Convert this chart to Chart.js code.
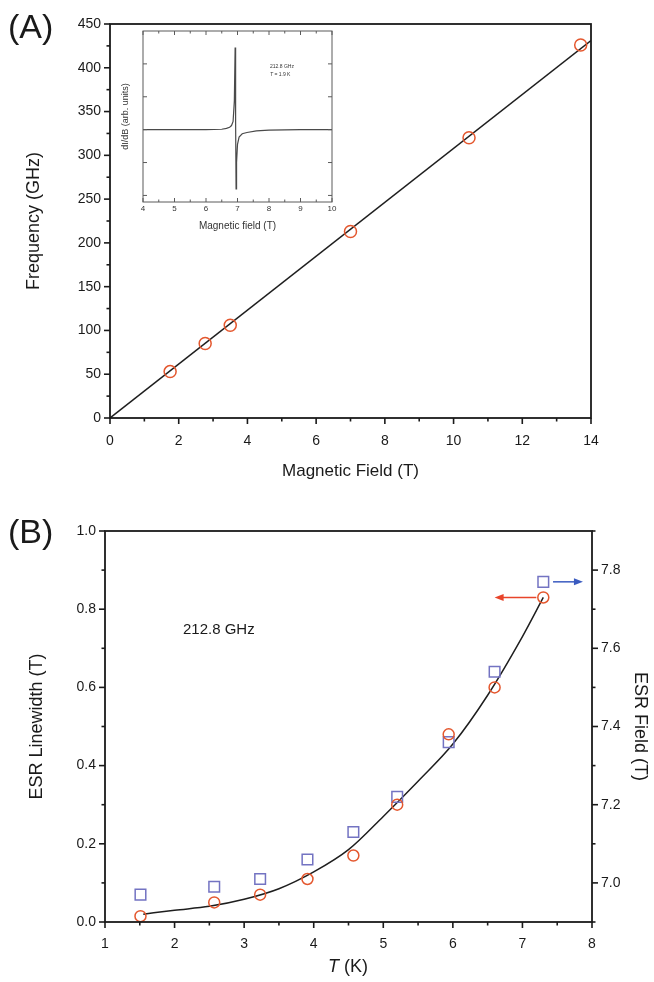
<!DOCTYPE html>
<html>
<head>
<meta charset="utf-8">
<title>ESR frequency and linewidth</title>
<script src="https://cdn.jsdelivr.net/npm/chart.js@4.4.0/dist/chart.umd.min.js"></script>
<style>
  html, body { margin: 0; padding: 0; background: #fff; }
  #page { position: relative; width: 654px; height: 982px; overflow: hidden;
          font-family: "Liberation Sans", Arial, sans-serif; color: #1a1a1a; }
  canvas { position: absolute; }
  .lbl { position: absolute; white-space: nowrap; line-height: 1; }
</style>
</head>
<body>
<div id="page">
  <canvas id="chartA" width="654" height="490" style="left:0px;top:0px"></canvas>
  <canvas id="inset" width="250" height="220" style="left:100px;top:20px"></canvas>
  <canvas id="chartB" width="654" height="492" style="left:0px;top:490px"></canvas>

  <div class="lbl" style="left:8px;top:9px;font-size:34px">(A)</div>
  <div class="lbl" style="left:8px;top:514px;font-size:34px">(B)</div>
  <div class="lbl" style="left:270px;top:64px;font-size:5px;color:#333">212.8 GHz</div>
  <div class="lbl" style="left:270px;top:72px;font-size:5px;color:#333"><i>T</i> = 1.9 K</div>
  <div class="lbl" style="left:183px;top:621px;font-size:15px">212.8 GHz</div>
  <div class="lbl" style="left:248px;top:957px;width:200px;text-align:center;font-size:18px"><i>T</i> (K)</div>
</div>

<script>
// (A) resonance frequency against magnetic field
var resField = [1.75, 2.77, 3.5, 7.0, 10.45, 13.7];
var resFreq = [53, 85, 106, 213, 320, 426];
var fitField = [0, 14];
var fitFreq = [0, 431];
var fieldLabelsA = [0, 2, 4, 6, 8, 10, 12, 14];
var freqLabels = [0, 50, 100, 150, 200, 250, 300, 350, 400, 450];

// inset: derivative spectrum, 212.8 GHz at 1.9 K
var specField = [4, 5, 6, 6.5, 6.65, 6.75, 6.81, 6.86, 6.9, 6.925, 6.94, 6.955, 6.97, 7.0, 7.05, 7.15, 7.3, 7.6, 8, 9, 10];
var specSignal = [0, 0, 0, 0.005, 0.015, 0.03, 0.05, 0.1, 0.35, 1.0, 0.1, -0.72, -0.4, -0.18, -0.09, -0.05, -0.035, -0.015, -0.005, 0, 0];
var specFieldLabels = [4, 5, 6, 7, 8, 9, 10];

// (B) linewidth and resonance field against temperature
var tempK = [1.51, 2.57, 3.23, 3.91, 4.57, 5.2, 5.94, 6.6, 7.3];
var linewidth = [0.015, 0.05, 0.07, 0.11, 0.17, 0.30, 0.48, 0.60, 0.83];
var esrField = [6.97, 6.99, 7.01, 7.06, 7.13, 7.22, 7.36, 7.54, 7.77];
var curveT = [1.55, 2, 2.5, 3, 3.5, 4, 4.5, 5, 5.5, 6, 6.5, 7, 7.3];
var curveWidth = [0.02, 0.03, 0.04, 0.058, 0.085, 0.128, 0.185, 0.27, 0.36, 0.455, 0.58, 0.73, 0.83];
var tempLabels = [1, 2, 3, 4, 5, 6, 7, 8];
var widthLabels = [0, 0.2, 0.4, 0.6, 0.8, 1.0];
var fieldLabelsB = [7.0, 7.2, 7.4, 7.6, 7.8];

Chart.defaults.font.family = '"Liberation Sans", Arial, sans-serif';
Chart.defaults.color = '#1a1a1a';

function near(list, v) {
  return list.some(function (t) { return Math.abs(t - v) < 1e-6; });
}
function pts(xs, ys) {
  return xs.map(function (x, i) { return { x: x, y: ys[i] }; });
}

// box around the plot area plus major/minor tick marks
function frame(cfg) {
  return {
    id: 'frame',
    afterDraw: function (chart) {
      var ctx = chart.ctx, a = chart.chartArea;
      ctx.save();
      ctx.strokeStyle = cfg.color;
      ctx.lineWidth = cfg.width;
      ctx.strokeRect(a.left, a.top, a.right - a.left, a.bottom - a.top);
      ctx.lineWidth = cfg.tickWidth;
      cfg.sides.forEach(function (side) {
        var scale = chart.scales[side.scale];
        scale.ticks.forEach(function (t) {
          var len = (!side.major || near(side.major, t.value)) ? cfg.majorLen : cfg.minorLen;
          var d = side.inward ? -len : len;
          var p = scale.getPixelForValue(t.value);
          ctx.beginPath();
          if (side.edge === 'bottom') { ctx.moveTo(p, a.bottom); ctx.lineTo(p, a.bottom + d); }
          if (side.edge === 'top') { ctx.moveTo(p, a.top); ctx.lineTo(p, a.top - d); }
          if (side.edge === 'left') { ctx.moveTo(a.left, p); ctx.lineTo(a.left - d, p); }
          if (side.edge === 'right') { ctx.moveTo(a.right, p); ctx.lineTo(a.right + d, p); }
          ctx.stroke();
        });
      });
      ctx.restore();
    }
  };
}

// arrows telling which axis each series belongs to
var axisArrows = {
  id: 'axisArrows',
  afterDatasetsDraw: function (chart) {
    var ctx = chart.ctx;
    var items = [
      { axis: 'yL', y: 0.83, from: 7.2, to: 6.6, color: '#e8442a' },
      { axis: 'yR', y: 7.77, from: 7.44, to: 7.87, color: '#3a5bc0' }
    ];
    items.forEach(function (it) {
      var x0 = chart.scales.x.getPixelForValue(it.from);
      var x1 = chart.scales.x.getPixelForValue(it.to);
      var y = chart.scales[it.axis].getPixelForValue(it.y);
      var dir = x1 > x0 ? 1 : -1;
      ctx.save();
      ctx.strokeStyle = it.color;
      ctx.fillStyle = it.color;
      ctx.lineWidth = 1.5;
      ctx.beginPath();
      ctx.moveTo(x0, y);
      ctx.lineTo(x1 - dir * 6, y);
      ctx.stroke();
      ctx.beginPath();
      ctx.moveTo(x1, y);
      ctx.lineTo(x1 - dir * 9, y - 3.5);
      ctx.lineTo(x1 - dir * 9, y + 3.5);
      ctx.closePath();
      ctx.fill();
      ctx.restore();
    });
  }
};

var noTicks = { display: false, drawTicks: false };

new Chart(document.getElementById('chartA'), {
  type: 'scatter',
  data: {
    datasets: [
      { data: pts(fitField, fitFreq), showLine: true, borderColor: '#1e1e1e', borderWidth: 1.5,
        pointRadius: 0, order: 2 },
      { data: pts(resField, resFreq), pointStyle: 'circle', pointRadius: 6, borderWidth: 1.5,
        borderColor: '#e4572e', backgroundColor: 'rgba(0,0,0,0)', clip: false, order: 1 }
    ]
  },
  options: {
    responsive: false, animation: false, events: [],
    layout: { padding: { left: 0, right: 63, top: 24, bottom: 8 } },
    plugins: { legend: { display: false }, tooltip: { enabled: false } },
    scales: {
      x: {
        type: 'linear', min: 0, max: 14,
        grid: noTicks, border: { display: false },
        ticks: { stepSize: 1, includeBounds: false, autoSkip: false, maxRotation: 0, padding: 15,
                 font: { size: 14 }, callback: function (v) { return near(fieldLabelsA, v) ? v : ''; } },
        title: { display: true, text: 'Magnetic Field (T)', font: { size: 17 }, padding: { top: 0, bottom: 0 } },
        afterFit: function (s) { s.height = 64; }
      },
      y: {
        min: 0, max: 450,
        grid: noTicks, border: { display: false },
        ticks: { stepSize: 25, includeBounds: false, autoSkip: false, padding: 9,
                 font: { size: 14 }, callback: function (v) { return near(freqLabels, v) ? v : ''; } },
        title: { display: true, text: 'Frequency (GHz)', font: { size: 18 }, padding: { top: 23, bottom: 0 } },
        afterFit: function (s) { s.width = 110; }
      }
    }
  },
  plugins: [frame({ color: '#1a1a1a', width: 1.8, tickWidth: 1.6, majorLen: 6, minorLen: 3.5,
    sides: [{ scale: 'x', edge: 'bottom', major: fieldLabelsA },
            { scale: 'y', edge: 'left', major: freqLabels }] })]
});

new Chart(document.getElementById('inset'), {
  type: 'scatter',
  data: {
    datasets: [
      { data: pts(specField, specSignal), showLine: true, borderColor: '#4a4a4a', borderWidth: 1.2,
        pointRadius: 0, tension: 0 }
    ]
  },
  options: {
    responsive: false, animation: false, events: [],
    layout: { padding: { left: 0, right: 18, top: 11, bottom: 0 } },
    plugins: { legend: { display: false }, tooltip: { enabled: false } },
    scales: {
      x: {
        type: 'linear', min: 4, max: 10,
        grid: noTicks, border: { display: false },
        ticks: { stepSize: 0.5, includeBounds: false, autoSkip: false, maxRotation: 0, padding: 2,
                 color: '#333', font: { size: 8 },
                 callback: function (v) { return near(specFieldLabels, v) ? v : ''; } },
        title: { display: true, text: 'Magnetic field (T)', color: '#333', font: { size: 10 },
                 padding: { top: 0, bottom: 8 } },
        afterFit: function (s) { s.height = 38; }
      },
      y: {
        min: -0.88, max: 1.2,
        grid: noTicks, border: { display: false },
        ticks: { display: false, stepSize: 0.4, includeBounds: false },
        title: { display: true, text: 'dI/dB (arb. units)', color: '#333', font: { size: 9 },
                 padding: { top: 20, bottom: 0 } },
        afterFit: function (s) { s.width = 43; }
      }
    }
  },
  plugins: [frame({ color: '#5a5a5a', width: 1, tickWidth: 1, majorLen: 4, minorLen: 2.5,
    sides: [{ scale: 'x', edge: 'bottom', major: specFieldLabels, inward: true },
            { scale: 'x', edge: 'top', major: specFieldLabels, inward: true },
            { scale: 'y', edge: 'left', inward: true },
            { scale: 'y', edge: 'right', inward: true }] })]
});

new Chart(document.getElementById('chartB'), {
  type: 'scatter',
  data: {
    datasets: [
      { data: pts(curveT, curveWidth), yAxisID: 'yL', showLine: true, borderColor: '#1e1e1e',
        borderWidth: 1.5, pointRadius: 0, cubicInterpolationMode: 'monotone', order: 3 },
      { data: pts(tempK, esrField), yAxisID: 'yR', pointStyle: 'rect', pointRadius: 7.5, borderWidth: 1.5,
        borderColor: '#7373c2', backgroundColor: 'rgba(0,0,0,0)', clip: false, order: 2 },
      { data: pts(tempK, linewidth), yAxisID: 'yL', pointStyle: 'circle', pointRadius: 5.5, borderWidth: 1.5,
        borderColor: '#e4572e', backgroundColor: 'rgba(0,0,0,0)', clip: false, order: 1 }
    ]
  },
  options: {
    responsive: false, animation: false, events: [],
    layout: { padding: { left: 0, right: 0, top: 41, bottom: 0 } },
    plugins: { legend: { display: false }, tooltip: { enabled: false } },
    scales: {
      x: {
        type: 'linear', min: 1, max: 8,
        grid: noTicks, border: { display: false },
        ticks: { stepSize: 0.5, includeBounds: false, autoSkip: false, maxRotation: 0, padding: 14,
                 font: { size: 14 }, callback: function (v) { return near(tempLabels, v) ? v : ''; } },
        afterFit: function (s) { s.height = 60; }
      },
      yL: {
        position: 'left', min: 0, max: 1,
        grid: noTicks, border: { display: false },
        ticks: { stepSize: 0.1, includeBounds: false, autoSkip: false, padding: 9, font: { size: 14 },
                 callback: function (v) { return near(widthLabels, v) ? v.toFixed(1) : ''; } },
        title: { display: true, text: 'ESR Linewidth (T)', font: { size: 18 }, padding: { top: 26, bottom: 0 } },
        afterFit: function (s) { s.width = 105; }
      },
      yR: {
        position: 'right', min: 6.9, max: 7.9,
        grid: noTicks, border: { display: false },
        ticks: { stepSize: 0.1, includeBounds: false, autoSkip: false, padding: 9, font: { size: 14 },
                 callback: function (v) { return near(fieldLabelsB, v) ? v.toFixed(1) : ''; } },
        title: { display: true, text: 'ESR Field (T)', font: { size: 18 }, padding: { top: 3, bottom: 0 } },
        afterFit: function (s) { s.width = 62; }
      }
    }
  },
  plugins: [axisArrows, frame({ color: '#1a1a1a', width: 1.8, tickWidth: 1.6, majorLen: 6, minorLen: 3.5,
    sides: [{ scale: 'x', edge: 'bottom', major: tempLabels },
            { scale: 'yL', edge: 'left', major: widthLabels },
            { scale: 'yR', edge: 'right', major: fieldLabelsB }] })]
});
</script>
</body>
</html>
